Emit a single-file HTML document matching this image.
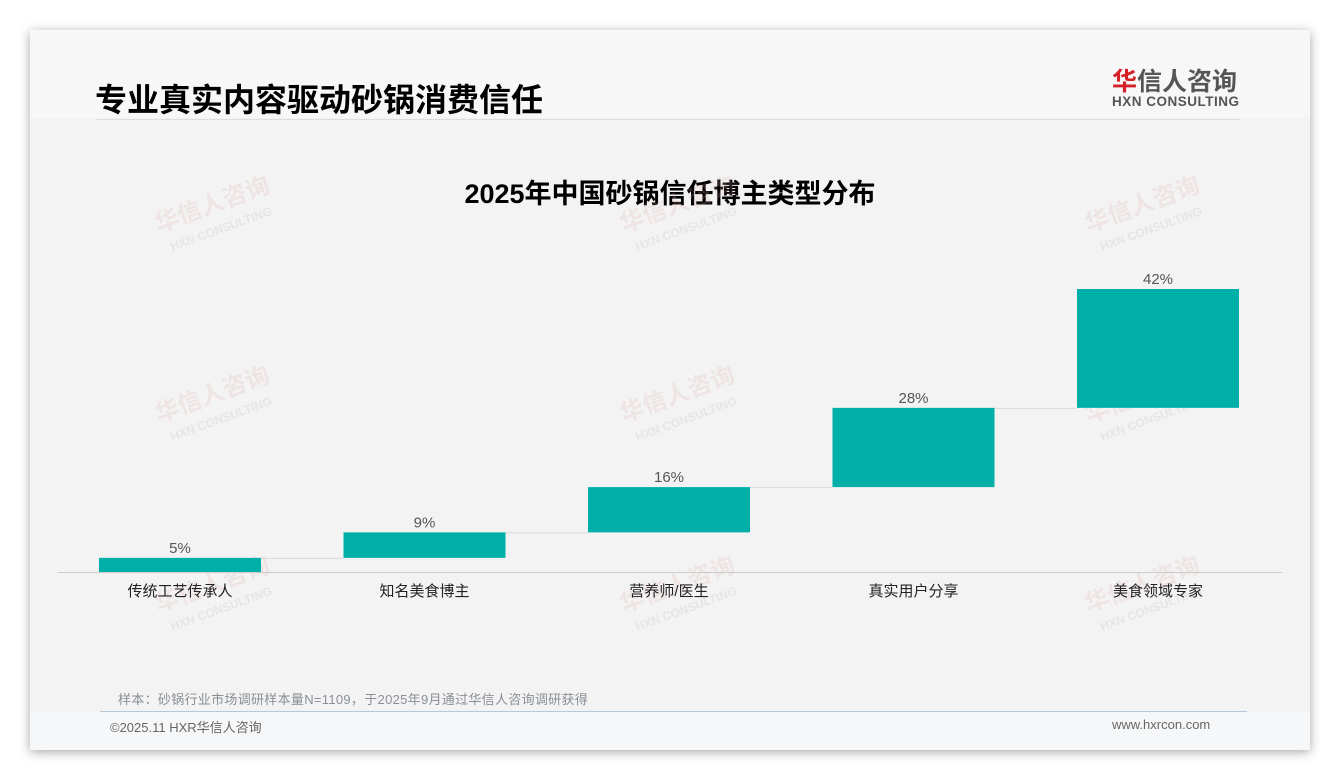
<!DOCTYPE html>
<html><head><meta charset="utf-8"><style>
body{margin:0;width:1340px;height:780px;background:#fff;position:relative;overflow:hidden;font-family:"Liberation Sans","Noto Sans CJK SC",sans-serif}
.card{position:absolute;left:30px;top:30px;width:1280px;height:720px;background:#f3f3f3;box-shadow:0 2px 10px rgba(0,0,0,.35)}
.abs{position:absolute;white-space:nowrap}
</style></head><body>
<div class="card">
 <div class="abs" style="left:0;top:0;width:1280px;height:88px;background:#f7f7f7"></div>
 <div class="abs" style="left:0;top:682px;width:1280px;height:38px;background:#f6f7f8"></div>
</div>
<div class="abs" style="left:95px;top:75px;font-size:32px;font-weight:bold;color:#000">专业真实内容驱动砂锅消费信任</div>
<div class="abs" style="left:97px;top:119px;width:1143px;height:1px;background:#ddd"></div>
<div class="abs" style="left:1112px;top:62px;font-size:25px;font-weight:bold;color:#555"><span style="color:#d62027">华</span>信人咨询</div>
<div class="abs" style="left:1112px;top:94px;font-size:13.5px;font-weight:bold;color:#555;letter-spacing:0.5px">HXN CONSULTING</div>
<div class="abs" style="left:0;top:172px;width:1340px;text-align:center;font-size:27px;font-weight:bold;color:#000">2025年中国砂锅信任博主类型分布</div>
<svg class="abs" style="left:0;top:0" width="1340" height="780" id="chart"></svg>
<div class="abs" style="left:118px;top:689px;font-size:13px;color:#8a8f96;letter-spacing:0.3px">样本：砂锅行业市场调研样本量N=1109，于2025年9月通过华信人咨询调研获得</div>
<div class="abs" style="left:100px;top:711px;width:1147px;height:1px;background:#b9c8d6"></div>
<div class="abs" style="left:110px;top:717px;font-size:13px;color:#666">©2025.11 HXR华信人咨询</div>
<div class="abs" style="left:1112px;top:717px;font-size:13px;color:#666">www.hxrcon.com</div>
<script>
const categories=["传统工艺传承人","知名美食博主","营养师/医生","真实用户分享","美食领域专家"];
const values=[5,9,16,28,42];
const labels=["5%","9%","16%","28%","42%"];
const NS="http://www.w3.org/2000/svg";
const svg=document.getElementById('chart');
const base=572,pxPer=2.83,x0=99,step=244.5,bw=162;
const y=v=>base-v*pxPer;
const xAt=i=>x0+i*step;
function mk(t,a){const e=document.createElementNS(NS,t);for(const k in a)e.setAttribute(k,a[k]);svg.appendChild(e);return e;}
const wmPos=[[215,212],[680,212],[1145,212],[215,402],[680,402],[1145,402],[215,592],[680,592],[1145,592]];
wmPos.forEach(p=>{
 const g=mk('text',{x:p[0],y:p[1],'text-anchor':'middle','font-size':24,'font-weight':'bold',fill:'rgba(225,170,170,0.2)',transform:`rotate(-20 ${p[0]} ${p[1]})`,'font-family':'Liberation Sans,Noto Sans CJK SC,sans-serif'});
 
 
 g.textContent='华信人咨询';
 const g2=mk('text',{x:p[0],y:p[1]+22,'text-anchor':'middle','font-size':12,'font-weight':'bold',fill:'rgba(200,200,200,0.3)',transform:`rotate(-20 ${p[0]} ${p[1]})`,'font-family':'Liberation Sans,sans-serif'});
 
 
 g2.textContent='HXN CONSULTING';
});
const ax=mk('line',{x1:58,x2:1282,y1:base+0.5,y2:base+0.5,stroke:'#ccc','stroke-width':1});


let cum=0;
values.forEach((v,i)=>{
 const top=y(cum+v),bot=y(cum);
 const r=mk('rect',{x:xAt(i),y:top,width:bw,height:bot-top,fill:'#00b0a8'});
 
 
 if(i<values.length-1){
  const c=mk('line',{x1:xAt(i)+bw,x2:xAt(i+1),y1:top+0.5,y2:top+0.5,stroke:'#d8d8d8','stroke-width':1});
  
  
 }
 const t=mk('text',{x:xAt(i)+bw/2,y:top-5,'text-anchor':'middle','font-size':15,fill:'#555','font-family':'Liberation Sans,sans-serif'});
 
 
 t.textContent=labels[i];
 const c2=mk('text',{x:xAt(i)+bw/2,y:596,'text-anchor':'middle','font-size':15,fill:'#222','font-family':'Liberation Sans,Noto Sans CJK SC,sans-serif'});
 
 
 c2.textContent=categories[i];
 cum+=v;
});
</script>
</body></html>
